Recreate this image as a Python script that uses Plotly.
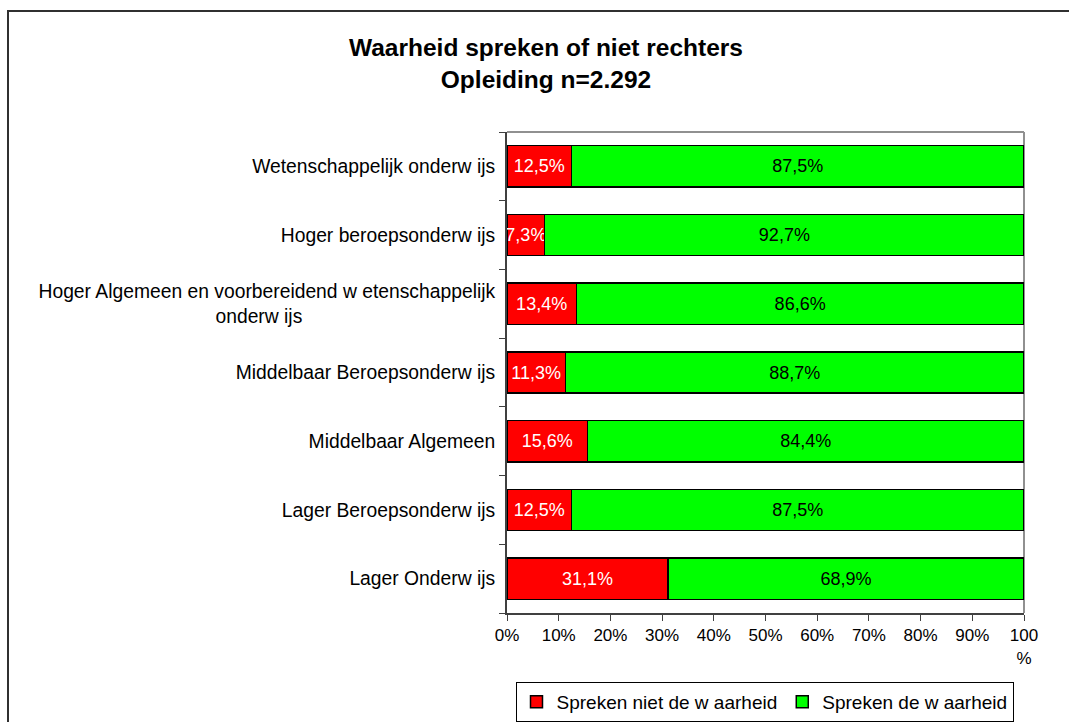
import plotly.graph_objects as go

PAD = "\u00a0" * 36 + "\u200b"
categories = [
    "Wetenschappelijk onderw ijs",
    "Hoger beroepsonderw ijs",
    "Hoger Algemeen en voorbereidend w etenschappelijk<br>onderw ijs" + PAD,
    "Middelbaar Beroepsonderw ijs",
    "Middelbaar Algemeen",
    "Lager Beroepsonderw ijs",
    "Lager Onderw ijs",
]
niet_waarheid = [12.5, 7.3, 13.4, 11.3, 15.6, 12.5, 31.1]
wel_waarheid = [87.5, 92.7, 86.6, 88.7, 84.4, 87.5, 68.9]
series_names = ["Spreken niet de w aarheid", "Spreken de w aarheid"]
tick_vals = [0, 10, 20, 30, 40, 50, 60, 70, 80, 90, 100]
tick_text = ["0%", "10%", "20%", "30%", "40%", "50%", "60%", "70%", "80%", "90%", "100<br>%"]

def fmt(v):
    return f"{v:.1f}".replace(".", ",") + "%"

FONT = "Liberation Sans, Arial, sans-serif"

fig = go.Figure()
fig.add_trace(go.Bar(
    y=categories, x=niet_waarheid, orientation="h", name=series_names[0],
    marker=dict(color="#FF0000", line=dict(color="black", width=1.5)),
    text=[fmt(v) for v in niet_waarheid], textposition="inside", textangle=0,
    insidetextanchor="middle", textfont=dict(color="white", size=18, family=FONT),
    hoverinfo="x+y",
))
fig.add_trace(go.Bar(
    y=categories, x=wel_waarheid, orientation="h", name=series_names[1],
    marker=dict(color="#00FF00", line=dict(color="black", width=1.5)),
    text=[fmt(v) for v in wel_waarheid], textposition="inside", textangle=0,
    insidetextanchor="middle", textfont=dict(color="black", size=18, family=FONT),
    hoverinfo="x+y",
))

W, H = 1069, 722
ml, mr, mt, mb = 507, 45, 132, 109
pw = W - ml - mr
ph = H - mt - mb

def px_x(p):
    return (p - ml) / pw

def px_y(p):
    return (H - mb - p) / ph

fig.update_layout(
    width=W, height=H,
    margin=dict(l=ml, r=mr, t=mt, b=mb),
    barmode="stack", bargap=0.4,
    uniformtext=dict(mode=False),
    plot_bgcolor="white", paper_bgcolor="white",
    font=dict(family=FONT, size=17, color="black"),
    title=dict(
        text="<b>Waarheid spreken of niet rechters<br>Opleiding n=2.292</b>",
        x=546 / W, xanchor="center", y=1 - 56 / H, yanchor="middle",
        font=dict(size=24.5, family=FONT, color="black"),
    ),
    showlegend=True,
    legend=dict(
        orientation="h", x=(526 + 1003) / 2 / W, xanchor="center", xref="container",
        y=1 - 682 / H, yanchor="top", yref="container",
        bordercolor="black", borderwidth=1, bgcolor="white",
        font=dict(size=19, family=FONT), traceorder="normal",
        itemwidth=30,
    ),
    xaxis=dict(
        range=[0, 100], tickvals=tick_vals, ticktext=tick_text,
        ticks="outside", ticklen=6, tickcolor="#404040",
        showline=True, linecolor="#404040", linewidth=2,
        showgrid=False, zeroline=False, fixedrange=True, automargin=False,
        tickfont=dict(size=17, family=FONT),
    ),
    yaxis=dict(
        categoryorder="array", categoryarray=categories[::-1],
        autorange=True, ticks="outside", ticklen=6, tickcolor="#404040",
        tickson="boundaries", automargin=False, ticklabelstandoff=6,
        showline=True, linecolor="#404040", linewidth=2,
        showgrid=False, zeroline=False,
        tickfont=dict(size=19.3, family=FONT),
    ),
    shapes=[
        dict(type="line", xref="paper", yref="paper", x0=0, x1=1, y0=1, y1=1,
             line=dict(color="#909090", width=2), layer="below"),
        dict(type="line", xref="paper", yref="paper", x0=1, x1=1, y0=0, y1=1,
             line=dict(color="#909090", width=2), layer="below"),
        dict(type="rect", xref="paper", yref="paper",
             x0=px_x(8), x1=px_x(1080), y0=px_y(11), y1=px_y(740),
             line=dict(color="#303030", width=2), layer="below"),
    ],
)
fig.update_traces(cliponaxis=False, constraintext="none")
fig.write_html(
    "out.html",
    config={"displayModeBar": False},
    post_script="document.body.style.margin='0';document.body.style.overflow='hidden';",
)
